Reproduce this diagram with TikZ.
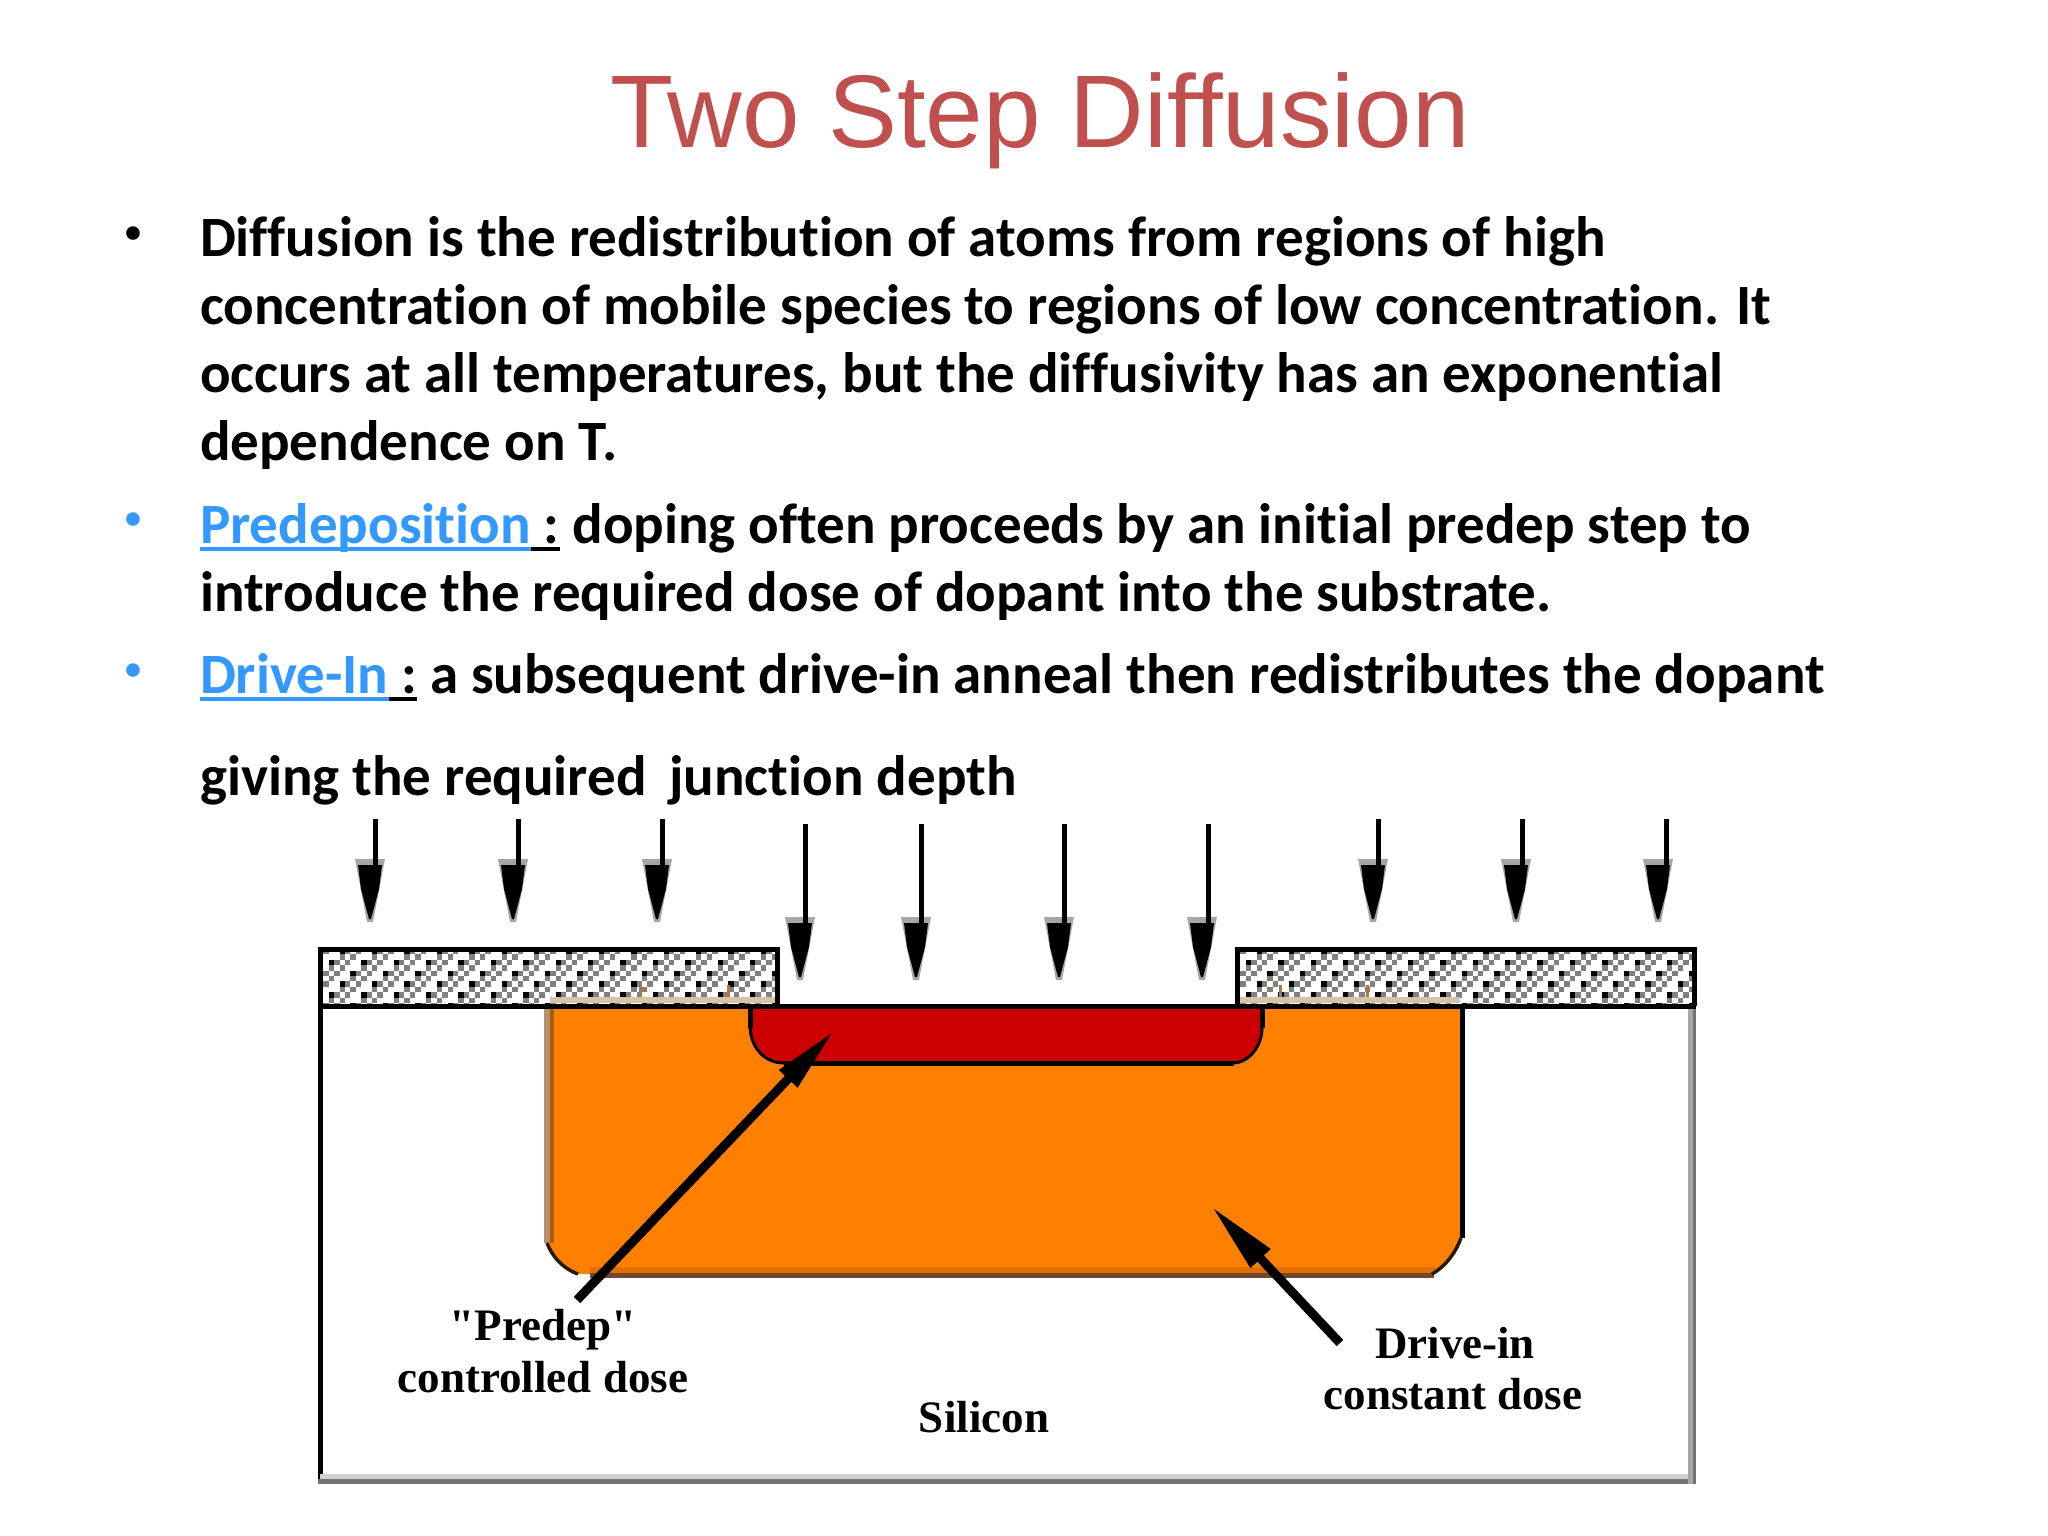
\documentclass[tikz,border=0pt]{standalone}
\usepackage{fontspec}
\setmainfont[Ligatures=NoCommon]{Carlito}
\newfontfamily\titlefont{Liberation Sans}
\newfontfamily\figfont{Liberation Serif}
\usetikzlibrary{calc}
\definecolor{titlered}{HTML}{C0504D}
\definecolor{linkblue}{HTML}{3399FF}
\definecolor{dorange}{HTML}{FF8000}
\definecolor{dred}{HTML}{CC0000}
\definecolor{brownish}{HTML}{A87840}
\definecolor{brownedge}{HTML}{B89070}
\definecolor{brownin}{HTML}{A86000}
\definecolor{brownlow}{HTML}{704830}
\definecolor{orangelow}{HTML}{E07000}
\tikzset{
  x=1pt,y=-1pt,
  body/.style={anchor=base west,inner sep=0pt,outer sep=0pt,font=\fontsize{57}{68}\selectfont\bfseries},
  bul/.style={anchor=base west,inner sep=0pt,font=\fontsize{32}{36}\selectfont\bfseries},
  figtext/.style={anchor=base,inner sep=0pt,font=\fontsize{45}{50}\figfont\bfseries},
  maskline/.style={line width=5pt,black},
}
\newsavebox{\ulbox}
\newcommand{\ulc}[1]{\sbox{\ulbox}{#1}\leavevmode\rlap{\rule[-8pt]{\wd\ulbox}{4pt}}\usebox{\ulbox}}
\newcommand{\lnk}[1]{\textcolor{linkblue}{\ulc{#1}}}
\newcommand{\hatchbox}[4]{%
  \fill[white] (#1,#2) rectangle (#3,#4);
  \begin{scope}
  \clip (#1,#2) rectangle (#3,#4);
  \foreach \i in {0,...,85}{
    \foreach \j in {0,...,10}{
      \pgfmathsetmacro{\xa}{#1+\i*5.4}
      \pgfmathsetmacro{\ya}{#2+\j*5.4}
      \pgfmathtruncatemacro{\m}{mod(\i+\j,2)}
      \pgfmathtruncatemacro{\n}{mod(\i+\j,3)}
      \pgfmathtruncatemacro{\p}{mod(\j,2)}
      \ifnum\m=1
        \ifnum\n=0 \else \fill[black!50] (\xa,\ya) rectangle ++(5.4,5.4);\fi
      \fi
      \ifnum\p=0
        \ifnum\n=1 \ifnum\m=0 \fill[black] (\xa,\ya) rectangle ++(5.4,5.4);\fi\fi
      \fi
    }
  }
  \end{scope}
}
\newcommand{\dnhead}[2]{%
  \fill[black!35] (#1-15,#2) -- (#1+15,#2) -- (#1+3,#2+63) -- (#1-3,#2+63) -- cycle;
  \fill[black] (#1-12,#2+6) -- (#1+12,#2+6) -- (#1+9,#2+30) -- (#1+1,#2+60) -- (#1-1,#2+60) -- (#1-9,#2+30) -- cycle;
}
\begin{document}
\begin{tikzpicture}
\useasboundingbox (0,0) rectangle (2048,1536);
\fill[white] (0,0) rectangle (2048,1536);
\node[anchor=base,inner sep=0pt,text=titlered,font=\fontsize{103.3}{110}\titlefont] (title) at (1040,148) {Two Step Diffusion};
\node[bul] (b1) at (125,242) {•};
\node[bul,text=linkblue] (b2) at (125,528) {•};
\node[bul,text=linkblue] (b3) at (125,679) {•};
\node[body] (l1) at (200,256) {Diffusion is the redistribution of atoms from regions of high};
\node[body] (l2) at (200,324) {concentration of mobile species to regions of low concentration. It};
\node[body] (l3) at (200,392) {occurs at all temperatures, but the diffusivity has an exponential};
\node[body] (l4) at (200,460) {dependence on T.};
\node[body] (l5) at (200,543) {\lnk{Predeposition}\ulc{ :} doping often proceeds by an initial predep step to};
\node[body] (l6) at (200,611) {introduce the required dose of dopant into the substrate.};
\node[body] (l7) at (200,693) {\lnk{Drive-In}\ulc{ :} a subsequent drive-in anneal then redistributes the dopant};
\node[body] (l8) at (200,795) {giving the required\ \,junction depth};
% silicon body
\draw[line width=5pt,black] (320,1006) -- (320,1484);
\fill[black!18] (320,1474) rectangle (1696,1480);
\fill[black!55] (318,1479) rectangle (1696,1484);
\fill[black!35] (1688,1006) rectangle (1696,1484);
\fill[black!55] (1693,1006) rectangle (1696,1484);
% orange
\fill[dorange] (549,1006) -- (549,1243) .. controls (552,1256) and (562,1268) .. (578,1274) -- (1432,1274) .. controls (1446,1266) and (1456,1252) .. (1461,1238) -- (1462,1006) -- cycle;
\fill[orangelow] (590,1267) rectangle (1436,1273);
\fill[brownlow] (590,1273) rectangle (1434,1278);
\fill[brownedge] (544,1006) rectangle (549.5,1243);
\fill[brownin] (549.5,1006) rectangle (554,1243);
\draw[line width=3.5pt,black!80!brown] (547,1243) .. controls (552,1256) and (562,1268) .. (578,1274);
\draw[line width=5pt,black] (1462,1006) -- (1462,1238);
\draw[line width=3.5pt,black!80!brown] (1461,1238) .. controls (1456,1252) and (1446,1266) .. (1432,1274);
% red
\fill[dred,draw=black,line width=3pt] (750,1006) -- (750,1025) .. controls (750,1048) and (765,1063) .. (784,1063) -- (1232,1063) .. controls (1250,1063) and (1262,1045) .. (1262,1028) -- (1262,1006) -- cycle;
\draw[line width=5pt,black] (784,1063) -- (1234,1063);
\draw[line width=5pt,black] (750,1006) -- (750,1028);
\draw[line width=5pt,black] (1262,1006) -- (1262,1028);
% masks
\hatchbox{318}{949}{777}{1006}
\hatchbox{1235}{949}{1694}{1006}
\foreach \x in {640,728,1280,1367} \fill[brownish] (\x-1.5,985) rectangle (\x+1.5,1003);
\fill[brownish!45] (550,997) rectangle (776,1003);
\fill[brownish!45] (1238,997) rectangle (1460,1003);
\draw[maskline] (320,1006) |- (777,949.5) -- (777,1006);
\draw[maskline] (1237,1006) |- (1694,949.5) -- (1694,1006);
\draw[maskline] (318,1006) -- (1696,1006);
% vertical arrows
\foreach \sx/\tx in {375.5/370,518/513,662/657,1378/1373,1522/1516,1666/1658}{
  \dnhead{\tx}{859}
  \fill[black] (\sx-2.5,819) rectangle (\sx+2.5,870);
}
\foreach \sx/\tx in {805/800,921/916,1064/1059,1208/1202}{
  \dnhead{\tx}{917}
  \fill[black] (\sx-2.5,824) rectangle (\sx+2.5,930);
}
% oblique arrows
\coordinate (predepTail) at (577,1300);
\coordinate (predepTip) at (831,1034);
\coordinate (driveTail) at (1340,1343);
\coordinate (driveTip) at (1214,1209);
\draw[line width=9pt,black] (predepTail) -- ($(predepTip)!0.15!(predepTail)$);
\fill[black] (predepTip) -- ($(predepTip)!62pt!(predepTail)!13pt!90:(predepTail)$) -- ($(predepTip)!62pt!(predepTail)!13pt!-90:(predepTail)$) -- cycle;
\draw[line width=9pt,black] (driveTail) -- ($(driveTip)!0.3!(driveTail)$);
\fill[black] (driveTip) -- ($(driveTip)!68pt!(driveTail)!14pt!90:(driveTail)$) -- ($(driveTip)!68pt!(driveTail)!14pt!-90:(driveTail)$) -- cycle;
% labels
\node[figtext] (lp1) at (543,1340) {"Predep"};
\node[figtext] (lp2) at (543,1392) {controlled dose};
\node[figtext] (lsi) at (984,1432) {Silicon};
\node[figtext] (ld1) at (1455,1358) {Drive-in};
\node[figtext] (ld2) at (1453,1409) {constant dose};
\end{tikzpicture}
\end{document}
